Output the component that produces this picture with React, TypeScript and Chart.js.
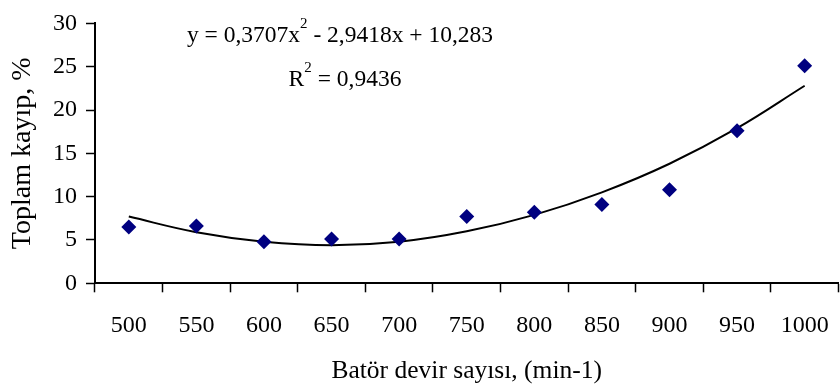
import React, { useEffect, useRef } from "react";
import { Chart, registerables } from "chart.js";

Chart.register(...registerables);

const categories = ["500", "550", "600", "650", "700", "750", "800", "850", "900", "950", "1000"];
const measured = [6.5, 6.6, 4.8, 5.1, 5.1, 7.7, 8.2, 9.1, 10.8, 17.6, 25.1];
const trend = [7.7, 5.9, 4.8, 4.4, 4.8, 6.0, 7.9, 10.5, 13.8, 17.9, 22.8];
const yMin = 0;
const yMax = 30;
const yStep = 5;
const xTitle = "Batör devir sayısı, (min-1)";
const yTitle = "Toplam kayıp, %";
const eqParts = ["y = 0,3707x", "2", " - 2,9418x + 10,283"];
const r2Parts = ["R", "2", " = 0,9436"];

const FONT = "'Liberation Serif', 'Times New Roman', serif";

const equationPlugin = {
  id: "equation",
  afterDraw(chart: any) {
    const ctx = chart.ctx;
    const drawSup = (parts: string[], cx: number, cy: number) => {
      ctx.save();
      ctx.fillStyle = "#000";
      ctx.textBaseline = "middle";
      ctx.textAlign = "left";
      const big = `23.5px ${FONT}`;
      const small = `15px ${FONT}`;
      ctx.font = big;
      const w0 = ctx.measureText(parts[0]).width;
      const w2 = ctx.measureText(parts[2]).width;
      ctx.font = small;
      const w1 = ctx.measureText(parts[1]).width;
      const total = w0 + w1 + w2;
      let x = cx - total / 2;
      ctx.font = big;
      ctx.fillText(parts[0], x, cy);
      x += w0;
      ctx.font = small;
      ctx.fillText(parts[1], x, cy - 12);
      x += w1;
      ctx.font = big;
      ctx.fillText(parts[2], x, cy);
      ctx.restore();
    };
    drawSup(eqParts, 340, 36);
    drawSup(r2Parts, 345, 80);
  },
};

export default function App() {
  const ref = useRef<HTMLCanvasElement>(null);
  useEffect(() => {
    document.body.style.margin = "0";
    document.body.style.overflow = "hidden";
    const chart = new Chart(ref.current!, {
      type: "line",
      data: {
        labels: categories,
        datasets: [
          {
            label: "Ölçülen",
            data: measured,
            showLine: false,
            pointStyle: "rectRot",
            pointRadius: 7.5,
            pointBackgroundColor: "#000080",
            pointBorderColor: "#000080",
            pointBorderWidth: 0,
            backgroundColor: "#000080",
            borderColor: "#000080",
          },
          {
            label: "Trend",
            data: trend,
            borderColor: "#000",
            borderWidth: 2,
            pointRadius: 0,
            tension: 0.4,
            fill: false,
          },
        ],
      },
      options: {
        responsive: false,
        animation: false,
        events: [],
        layout: { padding: { left: 0, top: 14.7, right: 3, bottom: 0 } },
        plugins: { legend: { display: false }, tooltip: { enabled: false } },
        scales: {
          x: {
            type: "category",
            offset: true,
            grid: {
              offset: true,
              drawOnChartArea: false,
              drawTicks: true,
              tickLength: 9,
              tickWidth: 1.5,
              tickColor: "#000",
            },
            border: { display: true, color: "#000", width: 2 },
            ticks: {
              color: "#000",
              font: { family: FONT, size: 24 },
              padding: 19,
              maxRotation: 0,
              autoSkip: false,
            },
            title: {
              display: true,
              text: xTitle,
              color: "#000",
              font: { family: FONT, size: 25.5 },
              padding: { top: 0, bottom: 5 },
            },
            afterFit: (s: any) => {
              s.height = 108.7;
            },
          },
          y: {
            min: yMin,
            max: yMax,
            grid: {
              drawOnChartArea: false,
              drawTicks: true,
              tickLength: 9,
              tickWidth: 1.5,
              tickColor: "#000",
            },
            border: { display: true, color: "#000", width: 2 },
            ticks: {
              stepSize: yStep,
              color: "#000",
              font: { family: FONT, size: 24 },
              padding: 9,
            },
            title: {
              display: true,
              text: yTitle,
              color: "#000",
              font: { family: FONT, size: 28 },
              padding: { top: 6, bottom: 0 },
            },
            afterFit: (s: any) => {
              s.width = 95;
            },
          },
        },
      },
      plugins: [equationPlugin],
    });
    return () => chart.destroy();
  }, []);
  return (
    <div style={{ width: 840, height: 392, overflow: "hidden", background: "#fff" }}>
      <canvas ref={ref} width={848} height={392} style={{ width: 848, height: 392, display: "block" }} />
    </div>
  );
}
